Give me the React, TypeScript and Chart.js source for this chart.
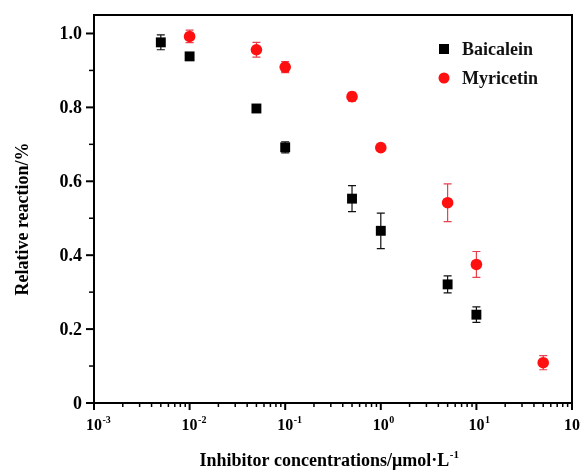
import React, { useEffect, useRef } from "react";
import { Chart, registerables } from "chart.js";

Chart.register(...registerables);

const baicaleinConc = [0.005, 0.01, 0.05, 0.1, 0.5, 1, 5, 10];
const baicaleinMean = [0.976, 0.938, 0.797, 0.692, 0.553, 0.466, 0.321, 0.239];
const baicaleinErr = [0.02, 0.006, 0.006, 0.015, 0.035, 0.048, 0.023, 0.021];

const myricetinConc = [0.01, 0.05, 0.1, 0.5, 1, 5, 10, 50];
const myricetinMean = [0.992, 0.956, 0.909, 0.829, 0.691, 0.542, 0.375, 0.109];
const myricetinErr = [0.017, 0.02, 0.015, 0.012, 0.006, 0.051, 0.035, 0.019];

const xDecades = [0.001, 0.01, 0.1, 1, 10, 100];
const xDecadeExp = ["-3", "-2", "-1", "0", "1", "2"];
const yMajorTicks = [0, 0.2, 0.4, 0.6, 0.8, 1.0];
const yMajorLabels = ["0", "0.2", "0.4", "0.6", "0.8", "1.0"];
const yMinorTicks = [0.1, 0.3, 0.5, 0.7, 0.9];

const seriesNames = ["Baicalein", "Myricetin"];
const seriesColors = ["#000000", "#ff1010"];
const errColors = ["#111111", "#e8404e"];

const FONT = '"Liberation Serif", "Times New Roman", serif';

const customPlugin = {
  id: "customDraw",
  beforeDatasetsDraw(chart: any) {
    const ctx = chart.ctx;
    const xs = chart.scales.x;
    const ys = chart.scales.y;
    const sets = [
      { c: baicaleinConc, m: baicaleinMean, e: baicaleinErr },
      { c: myricetinConc, m: myricetinMean, e: myricetinErr },
    ];
    ctx.save();
    ctx.lineWidth = 1.2;
    sets.forEach((s, si) => {
      ctx.strokeStyle = errColors[si];
      s.c.forEach((cx: number, i: number) => {
        const px = xs.getPixelForValue(cx);
        const top = ys.getPixelForValue(s.m[i] + s.e[i]);
        const bot = ys.getPixelForValue(s.m[i] - s.e[i]);
        ctx.beginPath();
        ctx.moveTo(px, top);
        ctx.lineTo(px, bot);
        ctx.moveTo(px - 4, top);
        ctx.lineTo(px + 4, top);
        ctx.moveTo(px - 4, bot);
        ctx.lineTo(px + 4, bot);
        ctx.stroke();
      });
    });
    ctx.restore();
  },
  afterDraw(chart: any) {
    const ctx = chart.ctx;
    const xs = chart.scales.x;
    const ys = chart.scales.y;
    const { left, right, top, bottom } = chart.chartArea;
    ctx.save();
    ctx.strokeStyle = "#000";
    ctx.fillStyle = "#000";
    // frame
    ctx.lineWidth = 2;
    ctx.strokeRect(left, top, right - left, bottom - top);

    // y ticks
    ctx.lineWidth = 2;
    yMajorTicks.forEach((v) => {
      const py = ys.getPixelForValue(v);
      ctx.beginPath();
      ctx.moveTo(left - 8, py);
      ctx.lineTo(left, py);
      ctx.stroke();
    });
    ctx.lineWidth = 1.5;
    yMinorTicks.forEach((v) => {
      const py = ys.getPixelForValue(v);
      ctx.beginPath();
      ctx.moveTo(left - 5, py);
      ctx.lineTo(left, py);
      ctx.stroke();
    });
    ctx.font = "bold 18px " + FONT;
    ctx.textAlign = "right";
    ctx.textBaseline = "middle";
    yMajorTicks.forEach((v, i) => {
      ctx.fillText(yMajorLabels[i], left - 12, ys.getPixelForValue(v) + 1);
    });

    // x ticks
    xDecades.forEach((d, di) => {
      const px = xs.getPixelForValue(d);
      ctx.lineWidth = 2;
      ctx.beginPath();
      ctx.moveTo(px, bottom);
      ctx.lineTo(px, bottom + 7);
      ctx.stroke();
      if (di < xDecades.length - 1) {
        ctx.lineWidth = 1.5;
        for (let k = 2; k <= 9; k++) {
          const mx = xs.getPixelForValue(d * k);
          ctx.beginPath();
          ctx.moveTo(mx, bottom);
          ctx.lineTo(mx, bottom + 4);
          ctx.stroke();
        }
      }
    });
    ctx.textBaseline = "alphabetic";
    xDecades.forEach((d, di) => {
      const px = xs.getPixelForValue(d);
      ctx.font = "bold 16px " + FONT;
      ctx.textAlign = "center";
      const w = ctx.measureText("10").width;
      ctx.fillText("10", px, 430);
      ctx.font = "bold 10px " + FONT;
      ctx.textAlign = "left";
      ctx.fillText(xDecadeExp[di], px + w / 2 + 0.5, 423);
    });

    // x title
    const mainT = "Inhibitor concentrations/\u03bcmol\u00b7L";
    ctx.font = "bold 18px " + FONT;
    const w1 = ctx.measureText(mainT).width;
    ctx.font = "bold 11px " + FONT;
    const w2 = ctx.measureText("-1").width;
    const startX = 329 - (w1 + w2) / 2;
    ctx.font = "bold 18px " + FONT;
    ctx.textAlign = "left";
    ctx.fillText(mainT, startX, 466);
    ctx.font = "bold 11px " + FONT;
    ctx.fillText("-1", startX + w1 + 0.5, 458);

    // y title
    ctx.save();
    ctx.translate(28, 219);
    ctx.rotate(-Math.PI / 2);
    ctx.font = "bold 18px " + FONT;
    ctx.textAlign = "center";
    ctx.textBaseline = "alphabetic";
    ctx.fillText("Relative reaction/%", 0, 0);
    ctx.restore();

    // legend
    ctx.fillStyle = seriesColors[0];
    ctx.fillRect(444 - 5, 49 - 5, 10, 10);
    ctx.fillStyle = seriesColors[1];
    ctx.beginPath();
    ctx.arc(444, 78, 5.5, 0, Math.PI * 2);
    ctx.fill();
    ctx.fillStyle = "#111";
    ctx.font = "bold 18px " + FONT;
    ctx.textAlign = "left";
    ctx.textBaseline = "middle";
    ctx.fillText(seriesNames[0], 462, 50);
    ctx.fillText(seriesNames[1], 462, 79);
    ctx.restore();
  },
};

export default function App() {
  const ref = useRef<HTMLCanvasElement | null>(null);
  useEffect(() => {
    document.body.style.margin = "0";
    const canvas = ref.current;
    if (!canvas) return;
    const chart = new Chart(canvas, {
      type: "scatter",
      data: {
        datasets: [
          {
            label: seriesNames[0],
            data: baicaleinConc.map((x, i) => ({ x, y: baicaleinMean[i] })),
            pointStyle: "rect",
            pointRadius: 7,
            backgroundColor: seriesColors[0],
            borderWidth: 0,
          },
          {
            label: seriesNames[1],
            data: myricetinConc.map((x, i) => ({ x, y: myricetinMean[i] })),
            pointStyle: "circle",
            pointRadius: 5.8,
            backgroundColor: seriesColors[1],
            borderWidth: 0,
          },
        ],
      },
      options: {
        animation: false,
        responsive: false,
        devicePixelRatio: 1,
        layout: { padding: { top: 15, right: 9, left: 0, bottom: 0 } },
        plugins: { legend: { display: false }, tooltip: { enabled: false } },
        scales: {
          x: {
            type: "logarithmic",
            min: 0.001,
            max: 100,
            grid: { display: false },
            border: { display: false },
            ticks: { display: false },
            afterFit: (s: any) => {
              s.height = 70;
              s.paddingLeft = 0;
              s.paddingRight = 0;
            },
          },
          y: {
            type: "linear",
            min: 0,
            max: 1.05,
            grid: { display: false },
            border: { display: false },
            ticks: { display: false },
            afterFit: (s: any) => {
              s.width = 94;
              s.paddingTop = 0;
              s.paddingBottom = 0;
            },
          },
        },
      },
      plugins: [customPlugin],
    } as any);
    return () => chart.destroy();
  }, []);
  return (
    <div style={{ width: 581, height: 473, background: "#fff" }}>
      <canvas ref={ref} width={581} height={473} style={{ display: "block" }} />
    </div>
  );
}
